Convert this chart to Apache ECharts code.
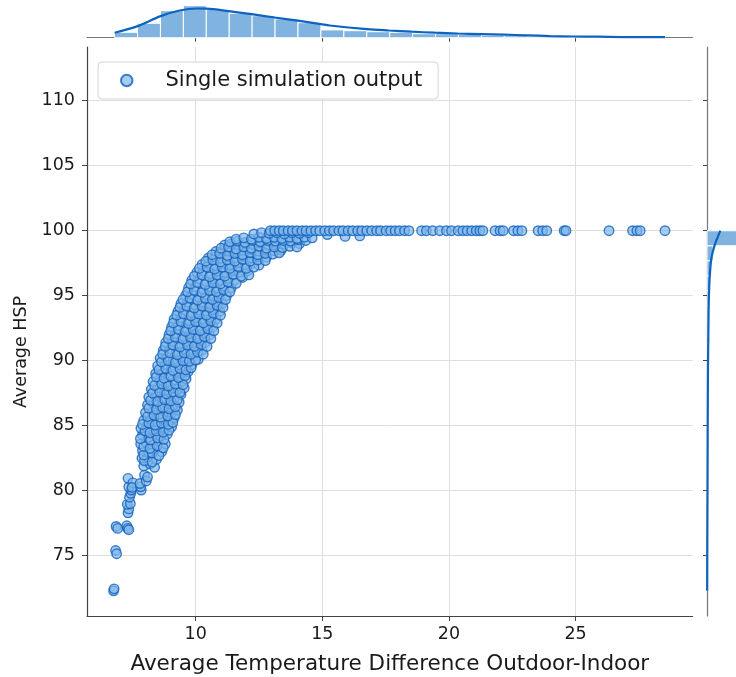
<!DOCTYPE html>
<html><head><meta charset="utf-8">
<script src="https://cdn.jsdelivr.net/npm/echarts@6/dist/echarts.min.js"></script>
<style>html,body{margin:0;padding:0;background:#fff}#chart{width:736px;height:677px}</style>
</head><body><div id="chart"></div>
<script>
// ---------- axes / ticks ----------
const xTickValues = [10, 15, 20, 25];
const yTickValues = [75, 80, 85, 90, 95, 100, 105, 110];
const xRange = [5.71, 29.62];
const yRange = [70.36, 114.13];

// ---------- scatter data: [Average Temperature Difference, Average HSP] ----------
const lowTailPoints = [
[6.76,72.30],[6.78,72.45],
[6.84,75.40],[6.88,75.15],
[6.86,77.25],[6.92,77.10],
[7.28,77.30],[7.32,77.10],[7.36,77.00],
[7.33,78.30],[7.36,78.60],[7.30,78.95],[7.42,79.00],
[7.39,79.50],[7.44,79.80],[7.46,80.05],[7.36,80.30],
[7.33,80.95],[7.52,80.60],[7.49,80.25],
[7.85,80.05],[7.83,80.30],[7.80,80.55],
[7.98,81.20],[8.05,80.75],[8.10,81.05]
];
const risingBandPoints = [
[7.95,81.90],[8.20,82.05],[8.38,81.80],
[7.88,82.50],[8.12,82.60],[8.45,82.40],
[7.90,83.10],[8.15,82.95],[8.42,83.20],[8.66,83.00],
[7.83,83.60],[8.05,83.70],[8.30,83.50],[8.55,83.80],[8.80,83.60],
[7.90,84.30],[8.12,84.10],[8.40,84.30],[8.62,84.20],[8.88,84.35],
[7.84,84.80],[8.06,84.90],[8.30,84.70],[8.55,84.95],[8.80,84.80],[9.05,84.90],
[7.95,85.40],[8.22,85.50],[8.47,85.30],[8.72,85.50],[9.00,85.40],[9.15,85.60],
[8.02,86.00],[8.30,86.10],[8.55,85.90],[8.80,86.10],[9.05,86.00],[9.28,86.20],
[8.10,86.60],[8.35,86.70],[8.62,86.50],[8.88,86.70],[9.12,86.60],[9.35,86.80],
[8.15,87.20],[8.42,87.30],[8.70,87.10],[8.95,87.30],[9.20,87.20],[9.42,87.40],
[8.25,87.80],[8.50,87.90],[8.78,87.70],[9.05,87.90],[9.30,87.80],[9.55,87.90],
[8.32,88.40],[8.58,88.50],[8.85,88.30],[9.10,88.50],[9.45,88.40],[9.62,88.60],
[8.42,89.00],[8.68,89.10],[8.95,88.90],[9.20,89.10],[9.45,89.00],[9.70,89.15],
[8.50,89.60],[8.78,89.70],[9.05,89.50],[9.32,89.70],[9.58,89.60],[9.85,89.70],
[8.60,90.20],[8.85,90.30],[9.12,90.10],[9.40,90.30],[9.65,90.20],[9.92,90.35],[10.10,90.10],
[8.72,90.80],[8.98,90.90],[9.25,90.70],[9.50,90.90],[9.78,90.80],[10.02,90.95],[10.25,90.80]
];
const risingBandFillPoints = [
[7.98,82.30],[8.28,82.20],
[7.95,82.75],[8.28,82.90],[8.55,82.70],
[7.95,83.40],[8.20,83.25],[8.48,83.45],[8.72,83.30],
[7.82,84.00],[8.22,83.90],[8.50,84.05],[8.75,83.95],
[8.00,84.60],[8.20,84.45],[8.45,84.60],[8.72,84.50],[8.95,84.65],
[7.90,85.10],[8.15,85.20],[8.40,85.05],[8.65,85.20],[8.92,85.10],[9.10,85.25],
[8.10,85.70],[8.36,85.80],[8.62,85.65],[8.90,85.75],[9.20,85.85],
[8.15,86.35],[8.45,86.25],[8.70,86.40],[8.95,86.30],[9.20,86.45],
[8.22,86.95],[8.50,86.85],[8.78,87.00],[9.02,86.90],[9.28,87.00],
[8.30,87.50],[8.58,87.60],[8.85,87.45],[9.12,87.60],[9.38,87.55],
[8.38,88.10],[8.66,88.20],[8.92,88.05],[9.20,88.20],[9.50,88.15],
[8.45,88.75],[8.75,88.65],[9.02,88.80],[9.32,88.70],[9.58,88.85],
[8.55,89.30],[8.82,89.40],[9.10,89.25],[9.38,89.40],[9.62,89.30],[9.82,89.45],
[8.65,89.90],[8.92,90.00],[9.20,89.85],[9.50,90.00],[9.75,89.95],[10.00,90.05],
[8.70,90.50],[8.98,90.60],[9.28,90.45],[9.55,90.60],[9.82,90.50],[10.08,90.65],[10.30,90.50]
];
const kneePoints = [
[8.82,91.40],[9.08,91.50],[9.35,91.30],[9.62,91.50],[9.88,91.40],[10.15,91.55],[10.38,91.40],
[8.95,92.00],[9.20,92.10],[9.48,91.90],[9.75,92.10],[10.00,92.00],[10.28,92.15],[10.55,92.00],
[9.05,92.60],[9.30,92.70],[9.58,92.50],[9.85,92.70],[10.12,92.60],[10.40,92.75],[10.68,92.60],
[9.15,93.20],[9.42,93.30],[9.70,93.10],[9.98,93.30],[10.25,93.20],[10.52,93.35],[10.80,93.20],
[9.30,93.80],[9.55,93.90],[9.82,93.70],[10.10,93.90],[10.38,93.80],[10.65,93.95],[10.95,93.80],
[9.42,94.40],[9.70,94.50],[9.98,94.30],[10.25,94.50],[10.52,94.40],[10.80,94.55],[11.05,94.40],
[9.60,95.00],[9.85,95.10],[10.12,94.90],[10.40,95.10],[10.68,95.00],[10.95,95.15],[11.22,95.00],
[9.72,95.60],[10.00,95.70],[10.28,95.50],[10.55,95.70],[10.82,95.60],[11.10,95.75],[11.40,95.60],
[9.85,96.20],[10.12,96.30],[10.40,96.10],[10.68,96.30],[10.95,96.20],[11.25,96.35],[11.55,96.20],[11.85,96.40],
[10.05,96.80],[10.30,96.90],[10.58,96.70],[10.85,96.90],[11.12,96.80],[11.42,96.95],[11.72,96.80],[12.05,96.90],
[10.25,97.40],[10.52,97.50],[10.80,97.30],[11.08,97.50],[11.35,97.40],[11.65,97.55],[11.95,97.40],[12.25,97.50],[12.50,97.35],
[10.50,97.90],[10.78,98.00],[11.05,97.85],[11.32,98.00],[11.60,97.90],[11.90,98.05],[12.20,97.90],[12.50,98.00],[12.80,97.95],
[10.80,98.40],[11.08,98.50],[11.35,98.35],[11.62,98.50],[11.90,98.40],[12.20,98.55],[12.50,98.40],[12.80,98.50],[13.10,98.45],[13.38,98.50],
[11.15,98.90],[11.42,99.00],[11.70,98.85],[11.98,99.00],[12.28,98.90],[12.58,99.05],[12.88,98.90],[13.18,99.00],[13.50,98.95],[13.80,99.05],[14.10,99.00]
];
const kneeFillPoints = [
[8.80,91.10],[9.10,91.20],[9.38,91.05],[9.68,91.20],[9.95,91.10],[10.22,91.25],[10.45,91.10],
[8.92,91.70],[9.20,91.80],[9.50,91.65],[9.80,91.80],[10.08,91.70],[10.35,91.85],[10.60,91.70],
[9.02,92.30],[9.32,92.40],[9.60,92.25],[9.90,92.40],[10.18,92.30],[10.48,92.45],[10.72,92.30],
[9.12,92.90],[9.42,93.00],[9.72,92.85],[10.00,93.00],[10.30,92.90],[10.60,93.05],[10.85,92.90],
[9.25,93.50],[9.52,93.60],[9.82,93.45],[10.12,93.60],[10.42,93.50],[10.70,93.65],[10.98,93.50],
[9.38,94.10],[9.65,94.20],[9.95,94.05],[10.25,94.20],[10.55,94.10],[10.85,94.25],[11.08,94.10],
[9.50,94.70],[9.78,94.80],[10.08,94.65],[10.38,94.80],[10.66,94.70],[10.92,94.85],[11.18,94.70],
[9.68,95.30],[9.95,95.40],[10.25,95.25],[10.55,95.40],[10.82,95.30],[11.10,95.45],[11.35,95.30],
[9.80,95.90],[10.08,96.00],[10.38,95.85],[10.68,96.00],[10.98,95.90],[11.28,96.05],[11.60,95.95],
[9.95,96.50],[10.25,96.60],[10.55,96.45],[10.85,96.60],[11.15,96.50],[11.48,96.65],[11.80,96.50],[12.10,96.60],
[10.15,97.10],[10.45,97.20],[10.75,97.05],[11.05,97.20],[11.35,97.10],[11.68,97.25],[12.00,97.10],[12.30,97.20],
[10.40,97.65],[10.68,97.75],[10.98,97.60],[11.25,97.75],[11.55,97.65],[11.85,97.80],[12.15,97.65],[12.45,97.75],[12.75,97.70],
[10.65,98.15],[10.95,98.25],[11.25,98.10],[11.55,98.25],[11.85,98.15],[12.15,98.30],[12.45,98.15],[12.75,98.25],[13.05,98.20],[13.30,98.30],
[11.00,98.65],[11.30,98.75],[11.60,98.60],[11.90,98.75],[12.20,98.65],[12.50,98.80],[12.80,98.65],[13.10,98.75],[13.42,98.70],[13.72,98.80],[14.00,98.75],
[11.35,99.15],[11.65,99.20],[11.95,99.10],[12.25,99.25],[12.55,99.15],[12.85,99.25],[13.15,99.20],[13.45,99.25],[13.75,99.20],[14.05,99.30],[14.35,99.25]
];
const plateauPoints = [
[11.60,99.35],[11.90,99.45],[12.20,99.35],[12.50,99.50],[12.80,99.40],[13.10,99.50],[13.40,99.40],[13.70,99.50],[14.00,99.40],[14.30,99.50],[14.60,99.45],
[12.30,99.75],[12.60,99.85],[12.90,99.80],[13.20,99.85],[13.50,99.75],[13.80,99.85],[14.10,99.80],[14.45,99.85],
[15.20,99.70],[15.90,99.56],[16.48,99.60],
[12.95,100],[13.12,100],[13.30,100],[13.46,100],[13.65,100],[13.82,100],[14.00,100],[14.20,100],[14.36,100],[14.55,100],
[14.74,100],[14.90,100],[15.10,100],[15.28,100],[15.45,100],[15.66,100],[15.82,100],[16.02,100],[16.20,100],[16.40,100],
[16.56,100],[16.76,100],[16.95,100],[17.15,100],[17.30,100],[17.52,100],[17.70,100],[17.88,100],[18.05,100],[18.25,100],[18.42,100],
[18.92,100],[19.11,100],[19.36,100],[19.64,100],[19.90,100],[20.10,100],[20.36,100],[20.55,100],[20.72,100],[20.90,100],
[21.08,100],[21.22,100],[21.34,100],[21.82,100],[22.02,100],[22.14,100],[22.55,100],[22.72,100],[22.88,100],
[23.52,100],[23.70,100],[23.86,100],[24.55,100],[24.62,100],[26.32,100],[27.25,100],[27.42,100],[27.55,100],[28.53,100]
];

// ---------- top marginal (x distribution) ----------
const topHistStart = 6.80;
const topHistBinWidth = 0.905;
const topHistCounts = [27, 72, 135, 160, 141, 122, 110, 94, 75, 39, 35, 30, 27, 20, 20, 17, 12, 10, 7, 5, 4, 4, 3, 3];
const topKdeX = [6.80, 7.71, 8.62, 9.37, 10.04, 10.43, 11.30, 12.21, 13.12, 14.03, 14.94, 15.29, 16.76, 17.63, 18.53, 19.44, 20.35, 21.26, 22.17, 23.08, 23.99, 24.90, 25.84, 27.15, 28.53];
const topKdeY = [25, 58, 108, 136, 146, 145, 133, 118, 101, 85, 68, 61, 43, 36, 30, 25, 21, 18, 15, 12, 8, 6, 5, 3, 3];

// ---------- right marginal (y distribution) ----------
const rightHistStart = 72.3;
const rightHistBinWidth = 1.154;
const rightHistCounts = [1, 1, 1, 2, 2, 2, 3, 3, 4, 4, 5, 5, 6, 6, 7, 8, 9, 10, 11, 13, 17, 23, 30, 470];
const rightKdeY = [72.3, 76.8, 80.0, 84.5, 89.6, 91.6, 93.9, 95.7, 97.0, 97.98, 98.87, 99.56, 100.0];
const rightKdeDensity = [0.8, 1.5, 2.5, 3.5, 5, 6.5, 8, 11, 16, 23, 38, 55, 67];

// ---------- build ----------
const FONT = 'DejaVu Sans';
const topHistData = topHistCounts.map((c, i) => [topHistStart + i * topHistBinWidth, topHistStart + (i + 1) * topHistBinWidth, c]);
const rightHistData = rightHistCounts.map((c, i) => [rightHistStart + i * rightHistBinWidth, rightHistStart + (i + 1) * rightHistBinWidth, c]);
const topKdeData = topKdeX.map((x, i) => [x, topKdeY[i]]);
const rightKdeData = rightKdeY.map((y, i) => [rightKdeDensity[i], y]);
const scatterData = lowTailPoints.concat(risingBandPoints, risingBandFillPoints, kneePoints, kneeFillPoints, plateauPoints);

const chart = echarts.init(document.getElementById('chart'), null, {renderer: 'canvas'});
const axisColor = '#444';
const gridColor = '#dedede';

chart.setOption({
  animation: false,
  backgroundColor: '#fff',
  grid: [
    {left: 87, top: 47, width: 605.6, height: 569, outerBoundsMode: 'none', containLabel: false},
    {left: 87, top: 0, width: 605.6, height: 37.7, outerBoundsMode: 'none', containLabel: false},
    {left: 707, top: 47, width: 29, height: 569, outerBoundsMode: 'none', containLabel: false}
  ],
  legend: {
    left: 98, top: 62,
    padding: [8, 16, 8, 22],
    itemWidth: 11.5, itemHeight: 11.5,
    icon: 'circle',
    borderColor: '#d4d4d4', borderWidth: 1, borderRadius: 4,
    backgroundColor: '#fff',
    textStyle: {fontFamily: FONT, fontSize: 21, color: '#1a1a1a', padding: [0, 0, 0, 28]},
    data: ['Single simulation output']
  },
  xAxis: [
    {
      gridIndex: 0, type: 'value', min: xRange[0], max: xRange[1],
      name: 'Average Temperature Difference Outdoor-Indoor', nameLocation: 'middle', nameGap: 37,
      nameTextStyle: {fontFamily: FONT, fontSize: 21.5, color: '#1a1a1a'},
      axisLine: {show: true, lineStyle: {color: axisColor, width: 1.2}},
      axisTick: {show: true, length: 5, customValues: xTickValues, lineStyle: {color: axisColor}},
      axisLabel: {customValues: xTickValues, fontFamily: FONT, fontSize: 17.5, color: '#1a1a1a', margin: 9},
      splitLine: {show: true, lineStyle: {color: gridColor, width: 1}}
    },
    {
      gridIndex: 1, type: 'value', min: xRange[0], max: xRange[1],
      axisLine: {show: true, lineStyle: {color: '#777', width: 1.2}},
      axisTick: {show: true, length: 4, customValues: xTickValues, lineStyle: {color: axisColor}},
      axisLabel: {show: false},
      splitLine: {show: false}
    },
    {
      gridIndex: 2, type: 'value', min: 0, max: 145, show: false
    }
  ],
  yAxis: [
    {
      gridIndex: 0, type: 'value', min: yRange[0], max: yRange[1],
      name: 'Average HSP', nameLocation: 'middle', nameGap: 56,
      nameTextStyle: {fontFamily: FONT, fontSize: 17.5, color: '#1a1a1a', padding: [0, 41, 0, 0]},
      axisLine: {show: true, lineStyle: {color: axisColor, width: 1.2}},
      axisTick: {show: true, length: 5, customValues: yTickValues, lineStyle: {color: axisColor}},
      axisLabel: {customValues: yTickValues, fontFamily: FONT, fontSize: 17.5, color: '#1a1a1a', margin: 12},
      splitLine: {show: true, lineStyle: {color: gridColor, width: 1}}
    },
    {
      gridIndex: 1, type: 'value', min: 0, max: 188.5, show: false
    },
    {
      gridIndex: 2, type: 'value', min: yRange[0], max: yRange[1],
      axisLine: {show: true, lineStyle: {color: '#777', width: 1.2}},
      axisTick: {show: true, length: 4, customValues: yTickValues, lineStyle: {color: axisColor}},
      axisLabel: {show: false},
      splitLine: {show: false}
    }
  ],
  series: [
    {
      name: 'Single simulation output',
      type: 'scatter', xAxisIndex: 0, yAxisIndex: 0,
      symbol: 'circle', symbolSize: 9.5,
      itemStyle: {color: 'rgba(128,182,232,0.88)', borderColor: '#1162bf', borderWidth: 1.4},
      data: scatterData
    },
    {
      name: 'topHist', type: 'custom', xAxisIndex: 1, yAxisIndex: 1,
      renderItem: function (params, api) {
        const p0 = api.coord([api.value(0), api.value(2)]);
        const p1 = api.coord([api.value(1), 0]);
        return {type: 'rect', shape: {x: p0[0], y: p0[1], width: p1[0] - p0[0], height: p1[1] - p0[1]},
          style: {fill: '#80b3e0', stroke: '#ffffff', lineWidth: 1}};
      },
      encode: {x: [0, 1], y: 2},
      data: topHistData
    },
    {
      name: 'topKde', type: 'line', xAxisIndex: 1, yAxisIndex: 1,
      showSymbol: false, smooth: 0.35,
      lineStyle: {color: '#0d63c0', width: 2.2},
      data: topKdeData
    },
    {
      name: 'rightHist', type: 'custom', xAxisIndex: 2, yAxisIndex: 2, clip: true,
      renderItem: function (params, api) {
        const p0 = api.coord([0, api.value(1)]);
        const p1 = api.coord([api.value(2), api.value(0)]);
        return {type: 'rect', shape: {x: p0[0], y: p0[1], width: p1[0] - p0[0], height: p1[1] - p0[1]},
          style: {fill: '#80b3e0', stroke: '#ffffff', lineWidth: 1}};
      },
      encode: {y: [0, 1], x: 2},
      data: rightHistData
    },
    {
      name: 'rightKde', type: 'line', xAxisIndex: 2, yAxisIndex: 2,
      showSymbol: false, smooth: 0.35,
      lineStyle: {color: '#0d63c0', width: 2.2},
      data: rightKdeData
    }
  ]
});
</script>
</body></html>
